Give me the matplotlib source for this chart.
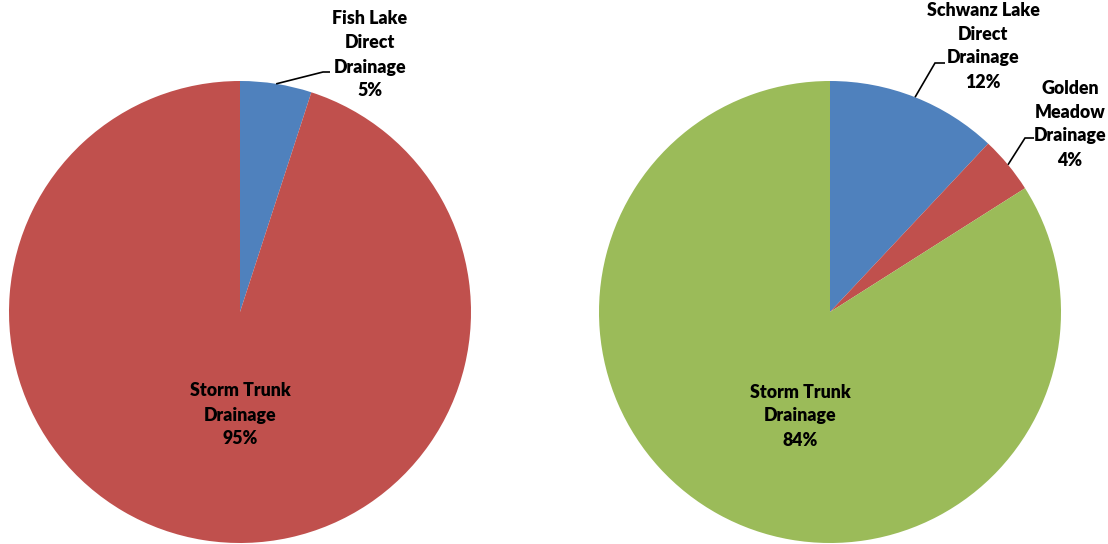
import numpy as np
import matplotlib
matplotlib.use("Agg")
import matplotlib.pyplot as plt

# Data
left_labels = ["Fish Lake\nDirect\nDrainage", "Storm Trunk\nDrainage"]
left_values = [5, 95]
right_labels = ["Schwanz Lake\nDirect\nDrainage", "Golden\nMeadow\nDrainage", "Storm Trunk\nDrainage"]
right_values = [12, 4, 84]

BLUE, RED, GREEN = "#4F81BD", "#C0504D", "#9BBB59"
W, H = 1108, 544
fig = plt.figure(figsize=(W / 100, H / 100), dpi=100)
ax = fig.add_axes([0, 0, 1, 1])

FONT = dict(family=["Lato", "DejaVu Sans"], fontweight="heavy", fontsize=12.8, color="black",
            ha="center", va="center", linespacing=1.5)
R = 231

def draw_pie(cx, cy, values, colors):
    # y axis is inverted, so counterclockwise in data = clockwise on screen
    wedges, _ = ax.pie(values, colors=colors, startangle=-90, counterclock=True,
                       center=(cx, cy), radius=R, frame=True,
                       wedgeprops=dict(linewidth=0))
    return wedges

def mid_point(w, r=R):
    ang = np.deg2rad((w.theta1 + w.theta2) / 2)
    cx, cy = w.center
    return cx + r * np.cos(ang), cy + r * np.sin(ang)

lw = draw_pie(240, 312, left_values, [BLUE, RED])
rw = draw_pie(830, 312, right_values, [BLUE, RED, GREEN])
ax.set_xlim(0, W)
ax.set_ylim(H, 0)
ax.set_aspect("auto")
ax.axis("off")

def leader(w, elbow, end):
    x0, y0 = mid_point(w)
    ax.plot([x0, elbow[0], end[0]], [y0, elbow[1], end[1]], color="black", lw=1.2,
            solid_capstyle="butt", solid_joinstyle="miter")

leader(lw[0], (323, 72), (330, 72))
ax.text(370, 55, f"{left_labels[0]}\n{left_values[0]}%", **FONT)
ax.text(240, 415, f"{left_labels[1]}\n{left_values[1]}%", **FONT)

leader(rw[0], (935, 63), (945, 63))
ax.text(983, 46, f"{right_labels[0]}\n{right_values[0]}%", **FONT)
leader(rw[1], (1025, 138), (1034, 138))
ax.text(1070, 124, f"{right_labels[1]}\n{right_values[1]}%", **FONT)
ax.text(800, 416, f"{right_labels[2]}\n{right_values[2]}%", **FONT)

fig.savefig("out.png", dpi=100)
